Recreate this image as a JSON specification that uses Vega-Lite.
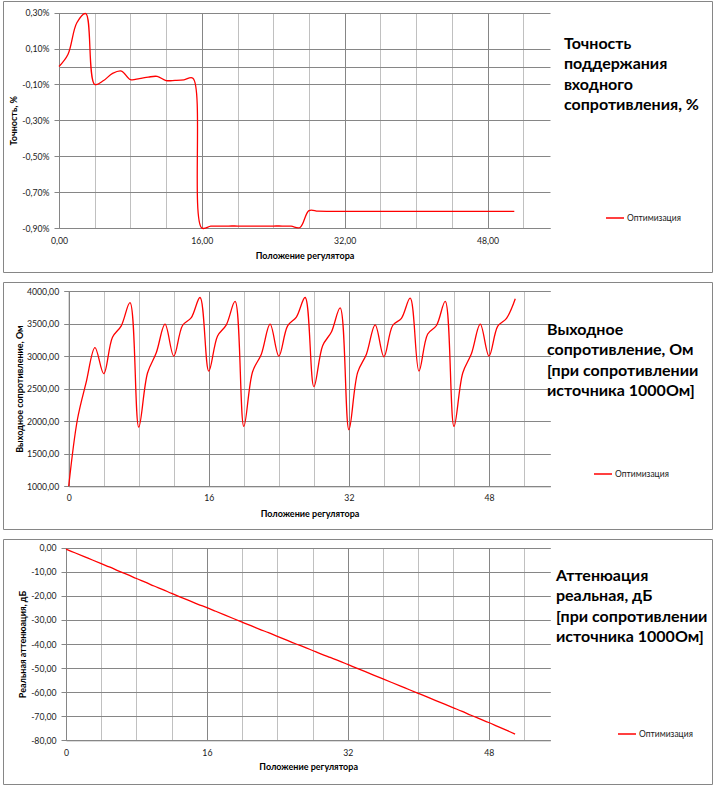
{
  "$schema": "https://vega.github.io/schema/vega-lite/v6.json",
  "padding": {"left": 2, "top": 0, "right": 3, "bottom": 4},
  "background": "white",
  "spacing": 10,
  "bounds": "flush",
  "config": {
    "font": "Lato",
    "view": {"stroke": "#868686", "strokeWidth": 1},
    "axis": {
      "labelFont": "Lato", "labelFontSize": 8.7, "labelColor": "#1a1a1a",
      "titleFont": "Lato", "titleFontSize": 9, "titleFontWeight": "bold", "titleColor": "#000000",
      "domainColor": "#868686", "tickColor": "#868686", "gridOpacity": 1,
      "labelFlush": false, "labelOverlap": false, "labelBound": false
    },
    "legend": {
      "orient": "none", "title": null, "symbolType": "stroke", "symbolSize": 324,
      "symbolStrokeWidth": 1.5, "labelFont": "Lato", "labelFontSize": 8.5, "labelColor": "#1a1a1a",
      "labelOffset": 2, "padding": 0, "rowPadding": 0
    },
    "title": {
      "anchor": "start", "frame": "group", "orient": "top", "align": "left", "baseline": "top",
      "font": "Lato", "fontSize": 16, "fontWeight": "bold", "color": "#000000", "lineHeight": 20.5
    }
  },
  "resolve": {"scale": {"color": "independent"}, "legend": {"color": "independent"}},
  "datasets": {
    "acc": [
      {"pos": 0, "value": 0.0}, {"pos": 1, "value": 0.067}, {"pos": 2, "value": 0.244}, {"pos": 3, "value": 0.295},
      {"pos": 4, "value": -0.1}, {"pos": 5, "value": -0.078}, {"pos": 6, "value": -0.038}, {"pos": 7, "value": -0.025},
      {"pos": 8, "value": -0.073}, {"pos": 9, "value": -0.067}, {"pos": 10, "value": -0.059}, {"pos": 11, "value": -0.055},
      {"pos": 12, "value": -0.078}, {"pos": 13, "value": -0.077}, {"pos": 14, "value": -0.074}, {"pos": 15, "value": -0.065},
      {"pos": 16, "value": -0.9}, {"pos": 17, "value": -0.89}, {"pos": 18, "value": -0.89}, {"pos": 19, "value": -0.889},
      {"pos": 20, "value": -0.889}, {"pos": 21, "value": -0.889}, {"pos": 22, "value": -0.889}, {"pos": 23, "value": -0.889},
      {"pos": 24, "value": -0.889}, {"pos": 25, "value": -0.889}, {"pos": 26, "value": -0.89}, {"pos": 27, "value": -0.897},
      {"pos": 28, "value": -0.803}, {"pos": 29, "value": -0.806}, {"pos": 30, "value": -0.807}, {"pos": 31, "value": -0.807},
      {"pos": 32, "value": -0.807}, {"pos": 33, "value": -0.807}, {"pos": 34, "value": -0.807}, {"pos": 35, "value": -0.807},
      {"pos": 36, "value": -0.807}, {"pos": 37, "value": -0.807}, {"pos": 38, "value": -0.807}, {"pos": 39, "value": -0.807},
      {"pos": 40, "value": -0.807}, {"pos": 41, "value": -0.807}, {"pos": 42, "value": -0.807}, {"pos": 43, "value": -0.807},
      {"pos": 44, "value": -0.807}, {"pos": 45, "value": -0.807}, {"pos": 46, "value": -0.807}, {"pos": 47, "value": -0.807},
      {"pos": 48, "value": -0.807}, {"pos": 49, "value": -0.807}, {"pos": 50, "value": -0.807}, {"pos": 51, "value": -0.807}
    ],
    "rout": [
      {"pos": 0, "value": 1000}, {"pos": 1, "value": 2030}, {"pos": 2, "value": 2600}, {"pos": 3, "value": 3130},
      {"pos": 4, "value": 2730}, {"pos": 5, "value": 3290}, {"pos": 6, "value": 3465}, {"pos": 7, "value": 3820},
      {"pos": 8, "value": 1910}, {"pos": 9, "value": 2740}, {"pos": 10, "value": 3050}, {"pos": 11, "value": 3490},
      {"pos": 12, "value": 3000}, {"pos": 13, "value": 3470}, {"pos": 14, "value": 3590}, {"pos": 15, "value": 3900},
      {"pos": 16, "value": 2770}, {"pos": 17, "value": 3310}, {"pos": 18, "value": 3480}, {"pos": 19, "value": 3840},
      {"pos": 20, "value": 1920}, {"pos": 21, "value": 2760}, {"pos": 22, "value": 3030}, {"pos": 23, "value": 3490},
      {"pos": 24, "value": 3000}, {"pos": 25, "value": 3465}, {"pos": 26, "value": 3600}, {"pos": 27, "value": 3900},
      {"pos": 28, "value": 2530}, {"pos": 29, "value": 3160}, {"pos": 30, "value": 3370}, {"pos": 31, "value": 3740},
      {"pos": 32, "value": 1870}, {"pos": 33, "value": 2750}, {"pos": 34, "value": 3030}, {"pos": 35, "value": 3480},
      {"pos": 36, "value": 2990}, {"pos": 37, "value": 3470}, {"pos": 38, "value": 3580}, {"pos": 39, "value": 3890},
      {"pos": 40, "value": 2770}, {"pos": 41, "value": 3340}, {"pos": 42, "value": 3470}, {"pos": 43, "value": 3840},
      {"pos": 44, "value": 1920}, {"pos": 45, "value": 2740}, {"pos": 46, "value": 3040}, {"pos": 47, "value": 3490},
      {"pos": 48, "value": 3000}, {"pos": 49, "value": 3460}, {"pos": 50, "value": 3580}, {"pos": 51, "value": 3880}
    ],
    "att": [
      {"pos": 0, "value": -0.6}, {"pos": 1, "value": -2.1}, {"pos": 2, "value": -3.6}, {"pos": 3, "value": -5.1},
      {"pos": 4, "value": -6.6}, {"pos": 5, "value": -8.1}, {"pos": 6, "value": -9.7}, {"pos": 7, "value": -11.2},
      {"pos": 8, "value": -12.8}, {"pos": 9, "value": -14.3}, {"pos": 10, "value": -15.9}, {"pos": 11, "value": -17.4},
      {"pos": 12, "value": -19.0}, {"pos": 13, "value": -20.5}, {"pos": 14, "value": -22.0}, {"pos": 15, "value": -23.5},
      {"pos": 16, "value": -24.9}, {"pos": 17, "value": -26.4}, {"pos": 18, "value": -27.9}, {"pos": 19, "value": -29.4},
      {"pos": 20, "value": -30.9}, {"pos": 21, "value": -32.4}, {"pos": 22, "value": -33.9}, {"pos": 23, "value": -35.3},
      {"pos": 24, "value": -36.8}, {"pos": 25, "value": -38.3}, {"pos": 26, "value": -39.8}, {"pos": 27, "value": -41.2},
      {"pos": 28, "value": -42.7}, {"pos": 29, "value": -44.2}, {"pos": 30, "value": -45.6}, {"pos": 31, "value": -47.0},
      {"pos": 32, "value": -48.5}, {"pos": 33, "value": -50.0}, {"pos": 34, "value": -51.5}, {"pos": 35, "value": -53.0},
      {"pos": 36, "value": -54.5}, {"pos": 37, "value": -56.0}, {"pos": 38, "value": -57.5}, {"pos": 39, "value": -59.0},
      {"pos": 40, "value": -60.5}, {"pos": 41, "value": -62.0}, {"pos": 42, "value": -63.5}, {"pos": 43, "value": -65.0},
      {"pos": 44, "value": -66.5}, {"pos": 45, "value": -68.0}, {"pos": 46, "value": -69.6}, {"pos": 47, "value": -71.1},
      {"pos": 48, "value": -72.6}, {"pos": 49, "value": -74.2}, {"pos": 50, "value": -75.8}, {"pos": 51, "value": -77.4}
    ]
  },
  "vconcat": [
    {
      "width": 709, "height": 271,
      "title": {"text": ["Точность", "поддержания", "входного", "сопротивления, %"], "offset": -112, "dx": 561},
      "data": {"name": "acc"},
      "mark": {"type": "line", "interpolate": "catmull-rom", "strokeWidth": 1.3, "clip": false},
      "encoding": {
        "x": {"field": "pos", "type": "quantitative",
          "scale": {"domain": [0, 55], "range": [56, 547], "nice": false, "zero": false},
          "axis": {"orient": "top", "values": [0, 4, 8, 12, 16, 20, 24, 28, 32, 36, 40, 44, 48, 52],
            "labelExpr": "datum.value % 16 == 0 ? replace(format(datum.value, '.2f'), '.', ',') : ''",
            "offset": -227, "tickSize": 0, "labelPadding": -8, "labelBaseline": "top", "grid": true,
            "gridColor": {"condition": {"test": "datum.value % 16 == 0", "value": "#868686"}, "value": "#c0c0c0"},
            "title": "Положение регулятора", "titleY": 27, "titleBaseline": "middle"}},
        "y": {"field": "value", "type": "quantitative",
          "scale": {"domain": [-0.9, 0.3], "range": [227, 11.7], "nice": false, "zero": false},
          "axis": {"values": [-0.9, -0.7, -0.5, -0.3, -0.1, 0, 0.1, 0.3],
            "labelExpr": "datum.value == 0 ? '' : (datum.value < 0 ? '-' : '') + replace(format(abs(datum.value), '.2f'), '.', ',') + '%'",
            "offset": -56, "tickSize": 5, "labelPadding": 5,
            "tickOpacity": {"condition": {"test": "datum.value == 0", "value": 0}, "value": 1},
            "grid": true, "gridColor": "#868686", "title": "Точность, %", "titlePadding": 3}},
        "color": {"datum": "Оптимизация", "type": "nominal", "scale": {"range": ["#ff0000"]},
          "legend": {"legendX": 602, "legendY": 207}}
      }
    },
    {
      "width": 709, "height": 247,
      "title": {"text": ["Выходное", "сопротивление, Ом", "[при сопротивлении", " источника 1000Ом]"], "offset": -117, "dx": 544},
      "data": {"name": "rout"},
      "mark": {"type": "line", "interpolate": "catmull-rom", "strokeWidth": 1.3, "clip": false},
      "encoding": {
        "x": {"field": "pos", "type": "quantitative",
          "scale": {"domain": [0, 55], "range": [65.7, 547.3], "nice": false, "zero": false},
          "axis": {"orient": "top", "values": [0, 4, 8, 12, 16, 20, 24, 28, 32, 36, 40, 44, 48, 52],
            "labelExpr": "datum.value % 16 == 0 ? format(datum.value, 'd') : ''",
            "offset": -204.3, "tickSize": 0, "labelPadding": -7, "labelBaseline": "top", "grid": true,
            "gridColor": {"condition": {"test": "datum.value % 16 == 0", "value": "#868686"}, "value": "#c0c0c0"},
            "title": "Положение регулятора", "titleY": 27, "titleBaseline": "middle"}},
        "y": {"field": "value", "type": "quantitative",
          "scale": {"domain": [1000, 4000], "range": [204.3, 9], "nice": false, "zero": false},
          "axis": {"values": [1000, 1500, 2000, 2500, 3000, 3500, 4000],
            "labelExpr": "replace(format(datum.value, '.2f'), '.', ',')",
            "offset": -65.7, "tickSize": 5, "labelPadding": 5,
            "grid": true, "gridColor": "#868686", "title": "Выходное сопротивление, Ом", "titlePadding": 2}},
        "color": {"datum": "Оптимизация", "type": "nominal", "scale": {"range": ["#ff0000"]},
          "legend": {"legendX": 590, "legendY": 182}}
      }
    },
    {
      "width": 709, "height": 245,
      "title": {"text": ["Аттенюация", "реальная, дБ", "[при сопротивлении", "источника 1000Ом]"], "offset": -106, "dx": 553},
      "data": {"name": "att"},
      "mark": {"type": "line", "interpolate": "catmull-rom", "strokeWidth": 1.3, "clip": false},
      "encoding": {
        "x": {"field": "pos", "type": "quantitative",
          "scale": {"domain": [0, 55], "range": [63, 547.3], "nice": false, "zero": false},
          "axis": {"orient": "top", "values": [0, 4, 8, 12, 16, 20, 24, 28, 32, 36, 40, 44, 48, 52],
            "labelExpr": "datum.value % 16 == 0 ? format(datum.value, 'd') : ''",
            "offset": -201.3, "tickSize": 0, "labelPadding": -8, "labelBaseline": "top", "grid": true,
            "gridColor": {"condition": {"test": "datum.value % 16 == 0", "value": "#868686"}, "value": "#c0c0c0"},
            "title": "Положение регулятора", "titleY": 26.5, "titleBaseline": "middle"}},
        "y": {"field": "value", "type": "quantitative",
          "scale": {"domain": [-80, 0], "range": [201.3, 8.7], "nice": false, "zero": false},
          "axis": {"values": [-80, -70, -60, -50, -40, -30, -20, -10, 0],
            "labelExpr": "(datum.value < 0 ? '-' : '') + replace(format(abs(datum.value), '.2f'), '.', ',')",
            "offset": -63, "tickSize": 5, "labelPadding": 5,
            "grid": true, "gridColor": "#868686", "title": "Реальная аттенюация, дБ", "titlePadding": 3}},
        "color": {"datum": "Оптимизация", "type": "nominal", "scale": {"range": ["#ff0000"]},
          "legend": {"legendX": 614, "legendY": 185}}
      }
    }
  ]
}
